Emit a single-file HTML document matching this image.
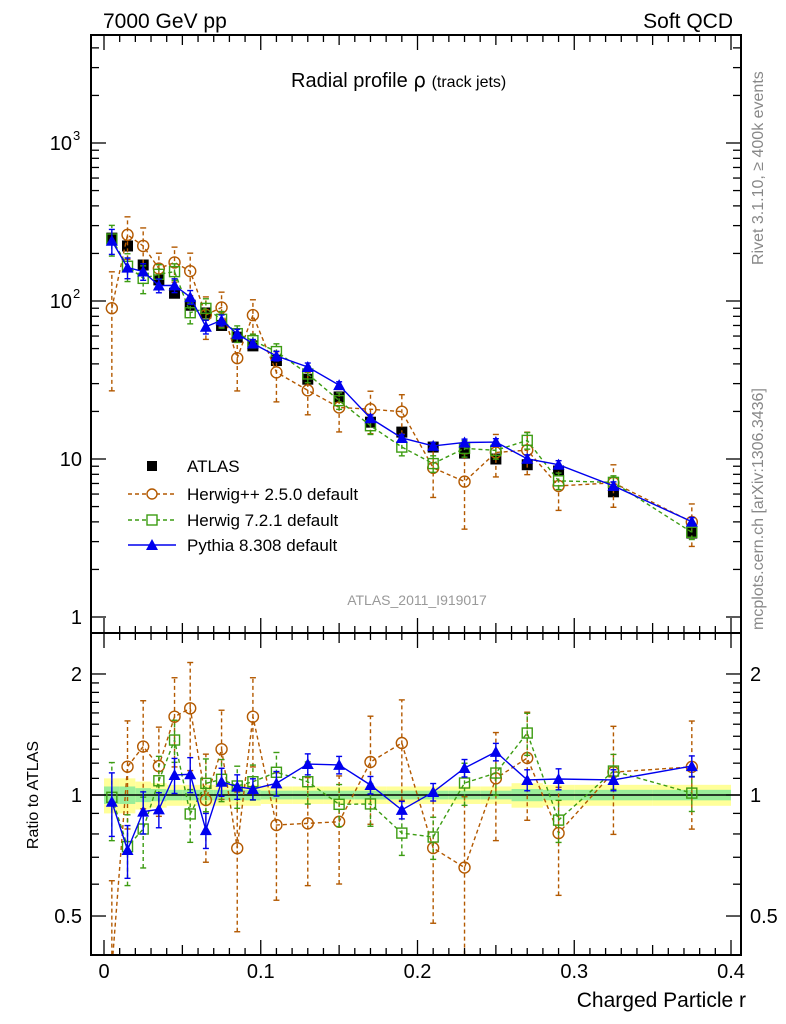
<!DOCTYPE html>
<html><head><meta charset="utf-8"><style>
html,body{margin:0;padding:0;background:#fff;width:786px;height:1024px;overflow:hidden;position:relative;}
svg{display:block;font-family:"Liberation Sans","DejaVu Sans",sans-serif;}
</style></head><body>
<svg id="c" width="786" height="1024" viewBox="0 0 786 1024" style="position:absolute;left:0;top:0"></svg>
<script>
const bins=[0.005,0.015,0.025,0.035,0.045,0.055,0.065,0.075,0.085,0.095,0.11,0.13,0.15,0.17,0.19,0.21,0.23,0.25,0.27,0.29,0.325,0.375];
const atlas=[250,223,169,136,112,94,84,70,59,52,42,32,24.7,17.1,14.8,11.9,10.9,10.0,9.2,8.4,6.2,3.4];
const herwigppRatio=[0.36,1.176,1.32,1.18,1.566,1.643,0.972,1.30,0.737,1.566,0.842,0.85,0.858,1.208,1.347,0.738,0.66,1.10,1.236,0.804,1.14,1.175];
const herwig7Ratio=[0.987,0.744,0.823,1.085,1.37,0.897,1.069,1.094,1.053,1.079,1.139,1.079,0.948,0.95,0.804,0.786,1.071,1.134,1.426,0.866,1.147,1.011];
const pythiaRatio=[0.962,0.73,0.909,0.921,1.121,1.126,0.818,1.079,1.049,1.035,1.069,1.194,1.188,1.059,0.918,1.017,1.167,1.28,1.09,1.096,1.09,1.18];
const herwigppErr=[0.7,0.3,0.3,0.25,0.25,0.3,0.3,0.25,0.38,0.25,0.35,0.3,0.3,0.3,0.28,0.35,0.5,0.3,0.3,0.3,0.3,0.3];
const herwig7Err=[0.22,0.2,0.2,0.15,0.12,0.15,0.15,0.12,0.12,0.1,0.12,0.12,0.12,0.12,0.12,0.12,0.12,0.12,0.12,0.12,0.1,0.1];
const pythiaErr=[0.18,0.15,0.12,0.1,0.1,0.1,0.1,0.08,0.07,0.06,0.07,0.06,0.05,0.05,0.05,0.05,0.05,0.05,0.06,0.06,0.06,0.06];
const bandYellow=[0.1,0.1,0.08,0.07,0.06,0.06,0.06,0.06,0.06,0.06,0.05,0.05,0.05,0.05,0.05,0.05,0.05,0.05,0.07,0.06,0.06,0.06];
const bandGreen=[0.05,0.05,0.04,0.035,0.03,0.03,0.03,0.03,0.03,0.03,0.025,0.025,0.025,0.025,0.025,0.025,0.025,0.025,0.035,0.03,0.03,0.03];
const binEdges=[0,0.01,0.02,0.03,0.04,0.05,0.06,0.07,0.08,0.09,0.1,0.12,0.14,0.16,0.18,0.2,0.22,0.24,0.26,0.28,0.3,0.35,0.4];

const NS="http://www.w3.org/2000/svg";
const svg=document.getElementById('c');
const X=v=>104+v*1567.5;
const Y=v=>617-158*Math.log10(v);
const R=v=>795-402*Math.log10(v);
function el(t,a,p){const e=document.createElementNS(NS,t);for(const k in a)e.setAttribute(k,a[k]);(p||svg).appendChild(e);return e;}
function txt(s,a){const e=el('text',a);e.textContent=s;return e;}

for(let i=0;i<bins.length;i++){
  const x0=X(binEdges[i]),x1=X(binEdges[i+1]);
  const b=el('rect',{x:x0,y:R(1+bandYellow[i]),width:x1-x0,height:R(1-bandYellow[i])-R(1+bandYellow[i]),fill:'#ffff99'});
  
  
  const g=el('rect',{x:x0,y:R(1+bandGreen[i]),width:x1-x0,height:R(1-bandGreen[i])-R(1+bandGreen[i]),fill:'#99ee99'});
  
  
}
el('line',{x1:91,x2:741,y1:R(1),y2:R(1),stroke:'#000','stroke-width':1.5});

const defs=el('defs',{});
const c1=el('clipPath',{id:'cm'},defs);el('rect',{x:91,y:35,width:650,height:598},c1);
const c2=el('clipPath',{id:'cr'},defs);el('rect',{x:91,y:633,width:650,height:322},c2);

function series(name,vals,ratio,err,color,dash,marker,main){
  const g=el('g',{'clip-path':main?'url(#cm)':'url(#cr)'});
  
  
  const yf=main?Y:R;
  const floor=main?0.5:0.37;
  const pts=bins.map((b,i)=>[X(b),yf(Math.max(vals[i],floor))]);
  el('polyline',{points:pts.map(p=>p.join(',')).join(' '),fill:'none',stroke:color,'stroke-width':1.4,'stroke-dasharray':dash||''},g);
  bins.forEach((b,i)=>{
    const v=vals[i],e=err[i]*(main?vals[i]:ratio[i]);
    const lo=Math.max(v-e,floor),hi=v+e;
    const x=X(b);
    el('line',{x1:x,x2:x,y1:yf(lo),y2:yf(hi),stroke:color,'stroke-width':1.4,'stroke-dasharray':dash||''},g);
    el('line',{x1:x-3,x2:x+3,y1:yf(lo),y2:yf(lo),stroke:color,'stroke-width':1.4},g);
    el('line',{x1:x-3,x2:x+3,y1:yf(hi),y2:yf(hi),stroke:color,'stroke-width':1.4},g);
    if(v<floor)return;
    const y=yf(v);let m;
    if(marker==='circle')m=el('circle',{cx:x,cy:y,r:5.5,fill:'none',stroke:color,'stroke-width':1.4},g);
    else if(marker==='square')m=el('rect',{x:x-5,y:y-5,width:10,height:10,fill:'none',stroke:color,'stroke-width':1.4},g);
    else m=el('polygon',{points:`${x},${y-6} ${x-6},${y+5} ${x+6},${y+5}`,fill:color},g);
    
    
  });
}
const ga=el('g',{'clip-path':'url(#cm)'});


bins.forEach((b,i)=>{
  const x=X(b),y=Y(atlas[i]);
  el('line',{x1:x,x2:x,y1:Y(atlas[i]*0.94),y2:Y(atlas[i]*1.06),stroke:'#000'},ga);
  const m=el('rect',{x:x-5.5,y:y-5.5,width:11,height:11,fill:'#000'},ga);
  
  
});
const hpp=atlas.map((a,i)=>a*herwigppRatio[i]);
const h7=atlas.map((a,i)=>a*herwig7Ratio[i]);
const py=atlas.map((a,i)=>a*pythiaRatio[i]);
series('herwigpp',hpp,herwigppRatio,herwigppErr,'#b35900','4,3','circle',true);
series('herwig7',h7,herwig7Ratio,herwig7Err,'#3c9c12','4,3','square',true);
series('pythia',py,pythiaRatio,pythiaErr,'#0000ee','','tri',true);
series('herwigpp',herwigppRatio,herwigppRatio,herwigppErr,'#b35900','4,3','circle',false);
series('herwig7',herwig7Ratio,herwig7Ratio,herwig7Err,'#3c9c12','4,3','square',false);
series('pythia',pythiaRatio,pythiaRatio,pythiaErr,'#0000ee','','tri',false);

el('rect',{x:91,y:35,width:650,height:598,fill:'none',stroke:'#000','stroke-width':2});
el('rect',{x:91,y:633,width:650,height:322,fill:'none',stroke:'#000','stroke-width':2});

for(let d=0;d<4;d++){
  for(let k=1;k<10;k++){
    const v=Math.pow(10,d)*k;const y=Y(v);if(y<36)continue;
    const L=k===1?15:8;
    el('line',{x1:91,x2:91+L,y1:y,y2:y,stroke:'#000','stroke-width':1.3});
    el('line',{x1:741,x2:741-L,y1:y,y2:y,stroke:'#000','stroke-width':1.3});
  }
}
txt('1',{x:82,y:Y(1)+7,'font-size':20,'text-anchor':'end'});
txt('10',{x:82,y:Y(10)+7,'font-size':20,'text-anchor':'end'});
txt('10',{x:72,y:Y(100)+7,'font-size':20,'text-anchor':'end'});txt('2',{x:73,y:Y(100)-3,'font-size':13});
txt('10',{x:72,y:Y(1000)+7,'font-size':20,'text-anchor':'end'});txt('3',{x:73,y:Y(1000)-3,'font-size':13});

[0.4,0.5,0.6,0.7,0.8,0.9,1,2].forEach(v=>{const y=R(v);const L=(v===1||v===0.5||v===2)?15:8;
 el('line',{x1:91,x2:91+L,y1:y,y2:y,stroke:'#000','stroke-width':1.3});el('line',{x1:741,x2:741-L,y1:y,y2:y,stroke:'#000','stroke-width':1.3});});
for(let v=1.1;v<2;v+=0.1){const y=R(v);el('line',{x1:91,x2:99,y1:y,y2:y,stroke:'#000','stroke-width':1.3});el('line',{x1:741,x2:733,y1:y,y2:y,stroke:'#000','stroke-width':1.3});}
[['2',2],['1',1],['0.5',0.5]].forEach(([s,v])=>{txt(s,{x:82,y:R(v)+7,'font-size':20,'text-anchor':'end'});txt(s,{x:750,y:R(v)+7,'font-size':20});});

for(let i=0;i<=40;i++){const v=i/100,x=X(v);const L=i%10===0?15:(i%5===0?10:7);
 el('line',{x1:x,x2:x,y1:955,y2:955-L,stroke:'#000','stroke-width':1.3});
 el('line',{x1:x,x2:x,y1:633,y2:633-L,stroke:'#000','stroke-width':1.3});
 el('line',{x1:x,x2:x,y1:35,y2:35+L,stroke:'#000','stroke-width':1.3});
 el('line',{x1:x,x2:x,y1:633,y2:633+L,stroke:'#000','stroke-width':1.3});}
['0','0.1','0.2','0.3','0.4'].forEach((s,i)=>txt(s,{x:X(i/10),y:978,'font-size':20,'text-anchor':'middle'}));
</script>
<svg width="786" height="1024" style="position:absolute;left:0;top:0" font-family="Liberation Sans, sans-serif">
<text x="103" y="28" font-size="21">7000 GeV pp</text>
<text x="733" y="28" font-size="21" text-anchor="end">Soft QCD</text>
<text x="291" y="87" font-size="20">Radial profile <tspan font-family="DejaVu Sans, sans-serif">ρ</tspan> <tspan font-size="16">(track jets)</tspan></text>
<text transform="translate(763,265) rotate(-90)" font-size="16" fill="#888">Rivet 3.1.10, ≥ 400k events</text>
<text transform="translate(763,630) rotate(-90)" font-size="16" fill="#888">mcplots.cern.ch [arXiv:1306.3436]</text>
<text x="417" y="605" font-size="14" fill="#999" text-anchor="middle">ATLAS_2011_I919017</text>
<text x="746" y="1007" font-size="21" text-anchor="end">Charged Particle r</text>
<text transform="translate(38,795) rotate(-90)" font-size="16" text-anchor="middle">Ratio to ATLAS</text>
<g font-size="17">
 <g><rect x="147" y="461" width="10" height="10" fill="#000"/><text x="187" y="472">ATLAS</text></g>
 <g><line x1="128" x2="176" y1="494" y2="494" stroke="#b35900" stroke-width="1.4" stroke-dasharray="4,3"/><circle cx="152" cy="494" r="5" fill="#fff" stroke="#b35900" stroke-width="1.4"/><text x="187" y="500">Herwig++ 2.5.0 default</text></g>
 <g><line x1="128" x2="176" y1="520" y2="520" stroke="#3c9c12" stroke-width="1.4" stroke-dasharray="4,3"/><rect x="147" y="515" width="10" height="10" fill="#fff" stroke="#3c9c12" stroke-width="1.4"/><text x="187" y="526">Herwig 7.2.1 default</text></g>
 <g><line x1="128" x2="176" y1="545" y2="545" stroke="#0000ee" stroke-width="1.4"/><polygon points="152,539 146,550 158,550" fill="#0000ee"/><text x="187" y="551">Pythia 8.308 default</text></g>
</g>
</svg>
</body></html>
